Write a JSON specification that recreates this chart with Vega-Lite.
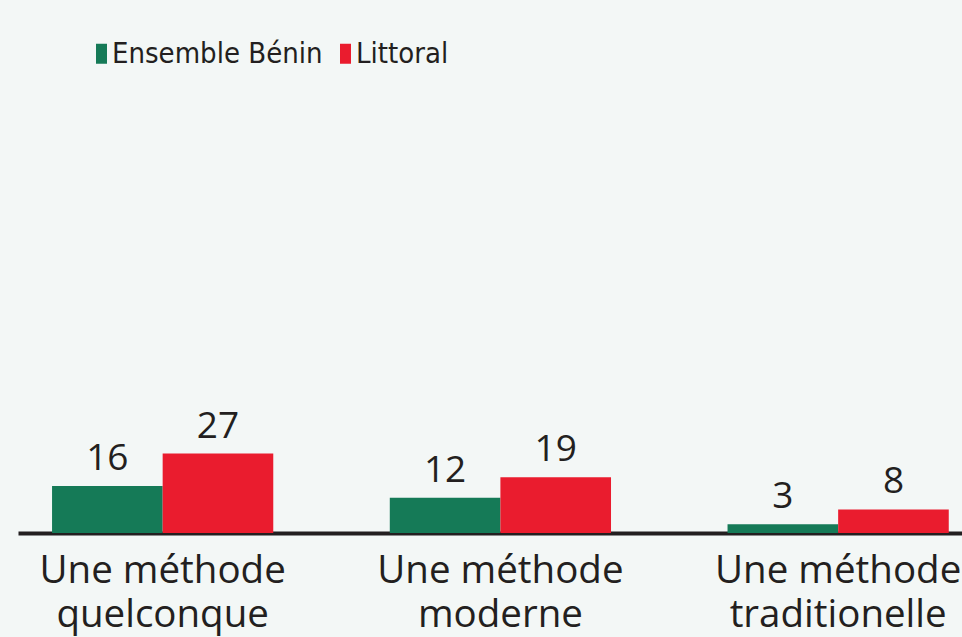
{
  "$schema": "https://vega.github.io/schema/vega-lite/v6.json",
  "autosize": "none",
  "width": 944,
  "height": 294,
  "padding": {"left": 18, "top": 239, "right": 0, "bottom": 104},
  "background": "#f3f7f6",
  "config": {"view": {"stroke": null}},
  "data": {
    "values": [
      {"methode": "Une méthode quelconque", "zone": "Ensemble Bénin", "valeur": 16},
      {"methode": "Une méthode quelconque", "zone": "Littoral", "valeur": 27},
      {"methode": "Une méthode moderne", "zone": "Ensemble Bénin", "valeur": 12},
      {"methode": "Une méthode moderne", "zone": "Littoral", "valeur": 19},
      {"methode": "Une méthode traditionelle", "zone": "Ensemble Bénin", "valeur": 3},
      {"methode": "Une méthode traditionelle", "zone": "Littoral", "valeur": 8}
    ]
  },
  "encoding": {
    "x": {
      "field": "methode",
      "type": "nominal",
      "sort": null,
      "scale": {"paddingInner": 0.345, "paddingOuter": 0.07, "align": 0.72},
      "axis": {
        "title": null,
        "labelAngle": 0,
        "ticks": false,
        "tickSize": 0,
        "labelPadding": 19,
        "labelFont": "Open Sans",
        "labelFontSize": 38.5,
        "labelColor": "#231f20",
        "labelLineHeight": 44,
        "labelExpr": "[slice(datum.label, 0, 11), slice(datum.label, 12)]",
        "domainColor": "#231f20",
        "domainWidth": 4,
        "labelOverlap": false,
        "labelLimit": 0
      }
    },
    "xOffset": {"field": "zone", "type": "nominal", "scale": {"paddingInner": 0}},
    "y": {
      "field": "valeur",
      "type": "quantitative",
      "scale": {"domain": [0, 100]},
      "axis": null
    }
  },
  "layer": [
    {
      "mark": {"type": "bar"},
      "encoding": {
        "color": {
          "field": "zone",
          "type": "nominal",
          "scale": {"domain": ["Ensemble Bénin", "Littoral"], "range": ["#157a57", "#ea1c2e"]},
          "legend": {
            "title": null,
            "orient": "none",
            "direction": "horizontal",
            "legendX": 69,
            "legendY": -200,
            "padding": 0,
            "symbolType": "M-0.55,-1H0.55V1H-0.55Z",
            "symbolSize": 400,
            "symbolStrokeWidth": 0,
            "symbolOpacity": 1,
            "labelOffset": -4,
            "columnPadding": 8,
            "labelFont": "DejaVu Sans Condensed",
            "labelFontSize": 29,
            "labelColor": "#231f20",
            "labelLimit": 0
          }
        }
      }
    },
    {
      "mark": {
        "type": "text",
        "baseline": "alphabetic",
        "dy": -16,
        "font": "Open Sans",
        "fontSize": 37,
        "color": "#231f20"
      },
      "encoding": {"text": {"field": "valeur", "type": "quantitative"}}
    }
  ]
}
